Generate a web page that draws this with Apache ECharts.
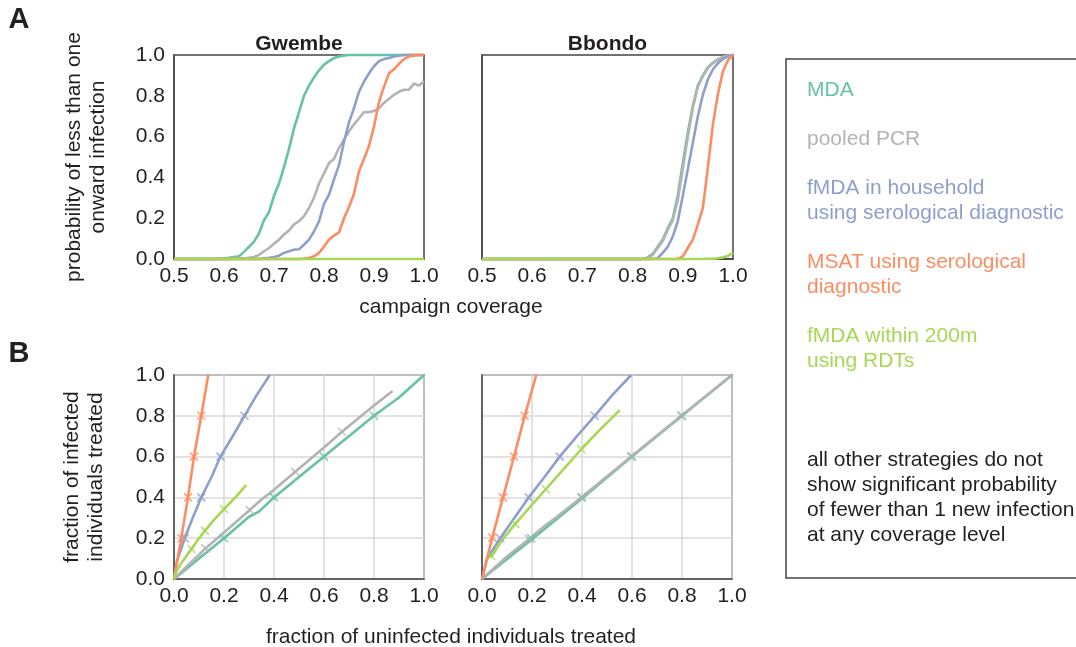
<!DOCTYPE html>
<html>
<head>
<meta charset="utf-8">
<script src="https://cdn.jsdelivr.net/npm/echarts@6/dist/echarts.min.js"></script>
<style>
html,body{margin:0;padding:0;background:#fff;}
#chart{width:1076px;height:647px;}
</style>
</head>
<body>
<div id="chart"></div>
<script>
// ---------- DATA ----------
var coverage = [0.50,0.51,0.52,0.53,0.54,0.55,0.56,0.57,0.58,0.59,
                0.60,0.61,0.62,0.63,0.64,0.65,0.66,0.67,0.68,0.69,
                0.70,0.71,0.72,0.73,0.74,0.75,0.76,0.77,0.78,0.79,
                0.80,0.81,0.82,0.83,0.84,0.85,0.86,0.87,0.88,0.89,
                0.90,0.91,0.92,0.93,0.94,0.95,0.96,0.97,0.98,0.99,1.00];

// Panel A, Gwembe
var gwMDA = [0,0,0,0,0,0,0,0,0,0.002,
             0.003,0.006,0.01,0.013,0.035,0.06,0.085,0.125,0.19,0.23,
             0.31,0.37,0.45,0.54,0.64,0.72,0.80,0.85,0.89,0.925,
             0.953,0.97,0.985,0.993,0.998,1,1,1,1,1,
             1,1,1,1,1,1,1,1,1,1,1];
var gwPCR = [0,0,0,0,0,0,0,0,0,0,
             0,0,0.002,0.003,0.004,0.006,0.01,0.02,0.038,0.054,
             0.075,0.095,0.12,0.14,0.17,0.185,0.21,0.25,0.30,0.37,
             0.42,0.47,0.49,0.545,0.585,0.625,0.66,0.69,0.72,0.72,
             0.725,0.74,0.765,0.785,0.805,0.82,0.83,0.83,0.86,0.85,0.87];
var gwHH  = [0,0,0,0,0,0,0,0,0,0,
             0,0,0,0,0,0,0,0,0.003,0.006,
             0.01,0.016,0.03,0.038,0.046,0.048,0.07,0.095,0.135,0.185,
             0.27,0.315,0.39,0.46,0.575,0.67,0.74,0.82,0.87,0.91,
             0.945,0.97,0.98,0.985,0.993,0.997,1,1,1,1,1];
var gwMSAT= [0,0,0,0,0,0,0,0,0,0,
             0,0,0,0,0,0,0,0,0,0,
             0,0,0,0,0,0,0.002,0.005,0.013,0.03,
             0.06,0.095,0.115,0.13,0.2,0.255,0.32,0.43,0.49,0.555,
             0.65,0.77,0.845,0.91,0.93,0.957,0.98,0.993,0.998,1,1];
var gwRDT = [0,0,0,0,0,0,0,0,0,0,
             0,0,0,0,0,0,0,0,0,0,
             0,0,0,0,0,0,0,0,0,0,
             0,0,0,0,0,0,0,0,0,0,
             0,0,0,0,0,0,0,0,0,0,0];

// Panel A, Bbondo
var bbMDA = [0,0,0,0,0,0,0,0,0,0,
             0,0,0,0,0,0,0,0,0,0,
             0,0,0,0,0,0,0,0,0,0,
             0,0,0,0.008,0.025,0.06,0.095,0.15,0.2,0.31,
             0.47,0.62,0.75,0.85,0.9,0.94,0.962,0.978,0.99,0.997,1];
var bbPCR = [0,0,0,0,0,0,0,0,0,0,
             0,0,0,0,0,0,0,0,0,0,
             0,0,0,0,0,0,0,0,0,0,
             0,0,0,0.005,0.02,0.054,0.087,0.144,0.19,0.29,
             0.44,0.60,0.74,0.846,0.895,0.936,0.96,0.977,0.99,0.997,1];
var bbHH  = [0,0,0,0,0,0,0,0,0,0,
             0,0,0,0,0,0,0,0,0,0,
             0,0,0,0,0,0,0,0,0,0,
             0,0,0,0,0,0.005,0.03,0.06,0.11,0.185,
             0.31,0.44,0.57,0.70,0.805,0.88,0.93,0.96,0.98,0.993,1];
var bbMSAT= [0,0,0,0,0,0,0,0,0,0,
             0,0,0,0,0,0,0,0,0,0,
             0,0,0,0,0,0,0,0,0,0,
             0,0,0,0,0,0,0,0,0,0,
             0.013,0.054,0.095,0.17,0.25,0.45,0.66,0.81,0.92,0.975,1];
var bbRDT = [0,0,0,0,0,0,0,0,0,0,
             0,0,0,0,0,0,0,0,0,0,
             0,0,0,0,0,0,0,0,0,0,
             0,0,0,0,0,0,0,0,0,0,
             0,0,0,0,0,0.001,0.002,0.004,0.008,0.015,0.03];

// Panel B, Gwembe  [fraction uninfected treated, fraction infected treated]
var gbMSAT = [[0,0],[0.01,0.07],[0.029,0.2],[0.056,0.4],[0.08,0.6],[0.109,0.8],[0.137,1.0]];
var gbMSATmk = [[0.029,0.2],[0.056,0.4],[0.08,0.6],[0.109,0.8]];
var gbHH = [[0,0],[0.01,0.08],[0.043,0.2],[0.075,0.3],[0.109,0.4],[0.15,0.5],[0.186,0.6],[0.23,0.69],[0.282,0.8],[0.33,0.9],[0.383,1.0]];
var gbHHmk = [[0.043,0.2],[0.109,0.4],[0.186,0.6],[0.282,0.8]];
var gbRDT = [[0,0],[0.01,0.04],[0.03,0.08],[0.07,0.147],[0.1,0.2],[0.124,0.237],[0.16,0.29],[0.2,0.343],[0.23,0.38],[0.26,0.42],[0.288,0.46]];
var gbRDTmk = [[0.07,0.147],[0.124,0.237],[0.2,0.343]];
var gbPCR = [[0,0],[0.05,0.06],[0.126,0.15],[0.2,0.228],[0.303,0.338],[0.35,0.39],[0.4,0.437],[0.485,0.526],[0.6,0.645],[0.672,0.722],[0.75,0.8],[0.8,0.85],[0.874,0.922]];
var gbPCRmk = [[0.126,0.15],[0.303,0.338],[0.485,0.526],[0.672,0.722]];
var gbMDA = [[0,0],[0.1,0.1],[0.2,0.2],[0.3,0.305],[0.34,0.33],[0.4,0.4],[0.6,0.6],[0.8,0.8],[0.9,0.89],[1,1]];
var gbMDAmk = [[0.2,0.2],[0.4,0.4],[0.6,0.6],[0.8,0.8]];

// Panel B, Bbondo
var bbbMSAT = [[0,0],[0.041,0.203],[0.084,0.4],[0.128,0.6],[0.171,0.8],[0.217,1.0]];
var bbbMSATmk = [[0.041,0.203],[0.084,0.4],[0.128,0.6],[0.171,0.8]];
var bbbHH = [[0,0],[0.02,0.1],[0.073,0.2],[0.13,0.3],[0.187,0.4],[0.25,0.5],[0.311,0.6],[0.38,0.7],[0.451,0.8],[0.52,0.9],[0.597,1.0]];
var bbbHHmk = [[0.073,0.2],[0.187,0.4],[0.311,0.6],[0.451,0.8]];
var bbbRDT = [[0.035,0.105],[0.08,0.19],[0.133,0.27],[0.19,0.35],[0.255,0.44],[0.32,0.53],[0.397,0.636],[0.47,0.73],[0.551,0.828]];
var bbbRDTmk = [[0.037,0.113],[0.133,0.27],[0.255,0.44],[0.397,0.636]];
var bbbMDA = [[0,0],[0.2,0.195],[0.4,0.395],[0.6,0.6],[0.8,0.8],[1,1]];
var bbbMDAmk = [[0.197,0.2],[0.4,0.4],[0.6,0.6],[0.8,0.8]];
var bbbPCR = [[0,0],[0.1,0.11],[0.188,0.196],[0.25,0.26],[0.3,0.305],[0.397,0.4],[0.597,0.6],[0.797,0.8],[1,1]];
var bbbPCRmk = [[0.188,0.196],[0.397,0.4],[0.597,0.6],[0.797,0.8]];

// Text
var siteNames = ['Gwembe', 'Bbondo'];
var panelLetters = ['A', 'B'];
var xNameA = 'campaign coverage';
var xNameB = 'fraction of uninfected individuals treated';
var yNameA = 'probability of less than one\nonward infection';
var yNameB = 'fraction of infected\nindividuals treated';
var legendLabels = ['MDA', 'pooled PCR', 'fMDA in household\nusing serological diagnostic',
                    'MSAT using serological\ndiagnostic', 'fMDA within 200m\nusing RDTs'];
var noteText = 'all other strategies do not\nshow significant probability\nof fewer than 1 new infection\nat any coverage level';

// ---------- STYLE ----------
var C = {mda:'#66c2a5', pcr:'#b3b3b3', hh:'#8da0cb', msat:'#fc8d62', rdt:'#a6d854'};
var FONT = '"Liberation Sans", Arial, Helvetica, sans-serif';
var TXT = '#231f20';
var AX = '#444444';

var grids = [
  {left:174, top:55, width:250, height:204},
  {left:482, top:55, width:251, height:204},
  {left:174, top:375, width:250, height:204},
  {left:482, top:375, width:250, height:204}
];
grids.forEach(function(g){ g.show = true; g.borderColor = AX; g.borderWidth = 1.5; g.backgroundColor = 'transparent'; });

function fmt(v){ return v.toFixed(1); }

var xAxes = [], yAxes = [];
for (var i = 0; i < 4; i++) {
  var isA = i < 2;
  xAxes.push({
    gridIndex:i, type:'value',
    min: isA ? 0.5 : 0, max:1, interval: isA ? 0.1 : 0.2,
    axisLine:{show:true, onZero:false, lineStyle:{color:AX, width:1.5}},
    axisTick:{show:false},
    axisLabel:{fontSize:21, color:TXT, fontFamily:FONT, margin:7, formatter:fmt},
    splitLine:{show:!isA, lineStyle:{color:'#d9d9d9', width:1.5}}
  });
  yAxes.push({
    gridIndex:i, type:'value', min:0, max:1, interval:0.2,
    axisLine:{show:true, onZero:false, lineStyle:{color:AX, width:1.5}},
    axisTick:{show:false},
    axisLabel:{show: i % 2 === 0, fontSize:21, color:TXT, fontFamily:FONT, margin:9, formatter:fmt},
    splitLine:{show:!isA, lineStyle:{color:'#d9d9d9', width:1.5}}
  });
}

function pairs(xs, ys){ return xs.map(function(x, k){ return [x, ys[k]]; }); }

var series = [];
function addLine(gi, data, color, z){
  series.push({type:'line', xAxisIndex:gi, yAxisIndex:gi, data:data, showSymbol:false,
    symbol:'none', clip:false, z:z, animation:false,
    lineStyle:{color:color, width:2.6}, itemStyle:{color:color}});
}
function addMarks(gi, data, color, z){
  series.push({type:'scatter', xAxisIndex:gi, yAxisIndex:gi, data:data,
    symbol:'path://M0,0L10,10M10,0L0,10', symbolSize:8, z:z, animation:false,
    itemStyle:{color:'none', borderColor:color, borderWidth:1.6}});
}

// A Gwembe
addLine(0, pairs(coverage, gwMDA), C.mda, 2);
addLine(0, pairs(coverage, gwPCR), C.pcr, 3);
addLine(0, pairs(coverage, gwHH), C.hh, 4);
addLine(0, pairs(coverage, gwMSAT), C.msat, 5);
addLine(0, pairs(coverage, gwRDT), C.rdt, 6);
// A Bbondo
addLine(1, pairs(coverage, bbMDA), C.mda, 2);
addLine(1, pairs(coverage, bbPCR), C.pcr, 3);
addLine(1, pairs(coverage, bbHH), C.hh, 4);
addLine(1, pairs(coverage, bbMSAT), C.msat, 5);
addLine(1, pairs(coverage, bbRDT), C.rdt, 6);
// B Gwembe
addLine(2, gbMDA, C.mda, 2);   addMarks(2, gbMDAmk, C.mda, 7);
addLine(2, gbPCR, C.pcr, 3);   addMarks(2, gbPCRmk, C.pcr, 7);
addLine(2, gbHH, C.hh, 4);     addMarks(2, gbHHmk, C.hh, 7);
addLine(2, gbMSAT, C.msat, 5); addMarks(2, gbMSATmk, C.msat, 7);
addLine(2, gbRDT, C.rdt, 6);   addMarks(2, gbRDTmk, C.rdt, 7);
// B Bbondo
addLine(3, bbbMDA, C.mda, 2);   addMarks(3, bbbMDAmk, C.mda, 7);
addLine(3, bbbPCR, C.pcr, 3);   addMarks(3, bbbPCRmk, C.pcr, 7);
addLine(3, bbbHH, C.hh, 4);     addMarks(3, bbbHHmk, C.hh, 7);
addLine(3, bbbMSAT, C.msat, 5); addMarks(3, bbbMSATmk, C.msat, 7);
addLine(3, bbbRDT, C.rdt, 6);   addMarks(3, bbbRDTmk, C.rdt, 7);

// ---------- GRAPHIC TEXT ----------
function txt(x, y, s, opt){
  opt = opt || {};
  return {type:'text', x:x, y:y, rotation: opt.rot || 0, z:100,
    style:{text:s, fill: opt.color || TXT, font: (opt.weight || 'normal') + ' ' + (opt.size || 21) + 'px ' + FONT,
      textAlign: opt.align || 'center', textVerticalAlign: opt.valign || 'middle', lineHeight: opt.lh || 24}};
}
var legendColors = [C.mda, C.pcr, C.hh, C.msat, C.rdt];
var legendTops = [78, 126.5, 175.5, 249.5, 323.5];

var graphics = [
  txt(19, 20, panelLetters[0], {weight:'bold', size:29}),
  txt(19, 354, panelLetters[1], {weight:'bold', size:29}),
  txt(299, 44, siteNames[0], {weight:'bold'}),
  txt(607.5, 44, siteNames[1], {weight:'bold'}),
  txt(451, 307, xNameA),
  txt(451, 637, xNameB),
  txt(86, 157, yNameA, {rot:Math.PI/2}),
  txt(84, 477, yNameB, {rot:Math.PI/2}),
  {type:'rect', shape:{x:786, y:59, width:320, height:519}, z:90,
   style:{fill:'none', stroke:AX, lineWidth:1.5}}
];
legendLabels.forEach(function(s, k){
  graphics.push(txt(807, legendTops[k], s, {color:legendColors[k], align:'left', valign:'top', lh:25}));
});
graphics.push(txt(807, 447.5, noteText, {align:'left', valign:'top', lh:25}));

var chart = echarts.init(document.getElementById('chart'), null, {renderer:'canvas'});
chart.setOption({
  animation:false,
  backgroundColor:'#ffffff',
  grid:grids, xAxis:xAxes, yAxis:yAxes, series:series, graphic:graphics
});
</script>
</body>
</html>
